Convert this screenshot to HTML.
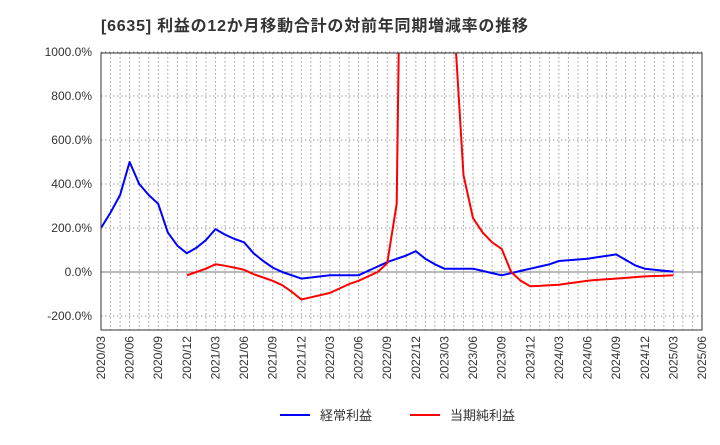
<!DOCTYPE html>
<html><head><meta charset="utf-8"><style>
body{margin:0;background:#fff;}
svg text{font-family:"Liberation Sans","Noto Sans CJK JP",sans-serif;}
</style></head><body>
<svg id="chart" width="720" height="440" xmlns="http://www.w3.org/2000/svg">
<text x="101" y="31" font-size="16" font-weight="bold" fill="#333" textLength="427" lengthAdjust="spacing">[6635]  利益の12か月移動合計の対前年同期増減率の推移</text>
<defs><clipPath id="clip"><rect x="101" y="53" width="601" height="277"/></clipPath></defs>
<g id="grid"></g>
<g id="series" clip-path="url(#clip)"></g>
<rect x="101" y="53" width="601" height="277" fill="none" stroke="#333" stroke-width="1"/>
<g id="axes"></g>
<g>
<line x1="280" y1="415" x2="310" y2="415" stroke="#0000ff" stroke-width="2"/>
<text x="320" y="420" font-size="13" fill="#333">経常利益</text>
<line x1="410" y1="415" x2="440" y2="415" stroke="#ff0000" stroke-width="2"/>
<text x="450" y="420" font-size="13" fill="#333">当期純利益</text>
</g>
</svg>
<script>
const yTicks=[1000,800,600,400,200,0,-200];
const xLabels=["2020/03","2020/06","2020/09","2020/12","2021/03","2021/06","2021/09","2021/12","2022/03","2022/06","2022/09","2022/12","2023/03","2023/06","2023/09","2023/12","2024/03","2024/06","2024/09","2024/12","2025/03","2025/06"];
const keijo=[200,270,350,500,400,350,310,180,120,85,110,145,195,170,150,135,85,50,20,0,-15,-30,-25,-20,-15,-15,-15,-15,5,25,45,60,75,95,60,35,15,15,15,15,5,-5,-15,-5,5,15,25,35,50,53,57,60,67,73,80,55,30,15,10,6,2];
const junri=[null,null,null,null,null,null,null,null,null,-15,0,15,35,28,20,10,-10,-25,-40,-60,-90,-125,-115,-105,-95,-75,-55,-40,-20,0,40,310,3600,4000,4000,4000,3000,1150,440,245,180,135,105,0,-40,-65,-63,-60,-58,-52,-46,-40,-36,-33,-30,-27,-23,-20,-18,-17,-15];
const X0=101,X1=702,Y0=272,PX=0.22,NM=63;
const xs=i=>X0+(X1-X0)*i/NM, ys=v=>Y0-v*PX;
const NS="http://www.w3.org/2000/svg";
const grid=document.getElementById('grid'),axes=document.getElementById('axes'),ser=document.getElementById('series');
function mk(tag,at,parent){const e=document.createElementNS(NS,tag);for(const k in at)e.setAttribute(k,at[k]);parent.appendChild(e);return e;}
for(let m=1;m<NM;m++){const l=mk('line',{x1:xs(m),x2:xs(m),y1:53,y2:330,stroke:'#999','stroke-dasharray':'1.5,2.5','stroke-width':1},grid);

}
yTicks.forEach(v=>{const l=mk('line',{x1:X0,x2:X1,y1:ys(v),y2:ys(v),stroke:v===0?'#777':'#999','stroke-dasharray':v===0?'':'1.5,2.5','stroke-width':1},grid);


const t=mk('text',{x:92,y:ys(v)+4,'text-anchor':'end','font-size':12,fill:'#333'},axes);t.textContent=v.toFixed(1)+'%';

});
xLabels.forEach((s,i)=>{const x=xs(i*3);const t=mk('text',{x:0,y:0,transform:`translate(${x+4},336) rotate(-90)`,'text-anchor':'end','font-size':12,fill:'#333'},axes);t.textContent=s;

});
function line(arr,col,name){let d='',pen=false;arr.forEach((v,i)=>{if(v===null){pen=false;return;}d+=(pen?'L':'M')+xs(i).toFixed(1)+','+ys(v).toFixed(1);pen=true;});
const p=mk('path',{d:d,fill:'none',stroke:col,'stroke-width':2,'stroke-linejoin':'round'},ser);

}
line(keijo,'#0000ff','keijo-line');
line(junri,'#ff0000','junri-line');
</script>
</body></html>
